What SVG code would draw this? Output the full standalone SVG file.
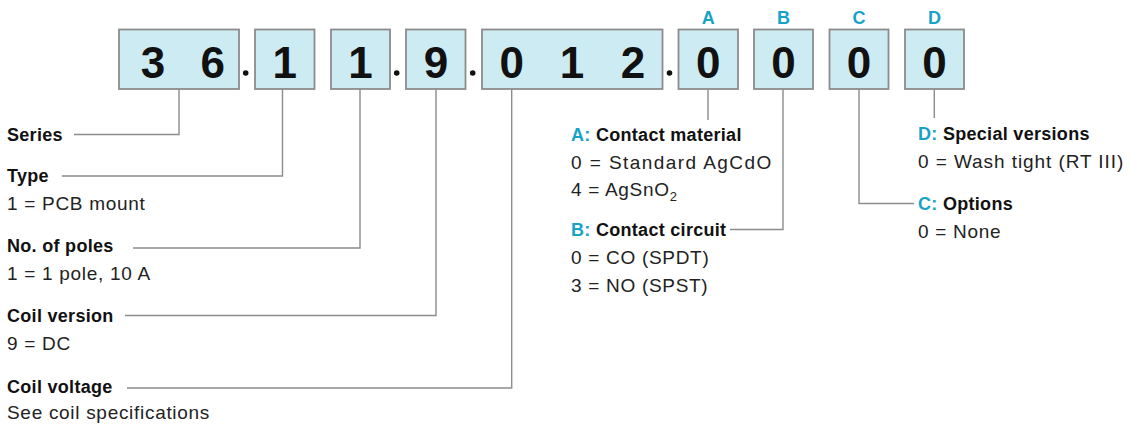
<svg xmlns="http://www.w3.org/2000/svg" width="1130" height="428" viewBox="0 0 1130 428">
<style>
.box{fill:#cdebf2;stroke:#8c8c8c;stroke-width:1.8}
.dig{font-family:"Liberation Sans",Arial,sans-serif;font-weight:bold;font-size:44px;fill:#111;text-anchor:middle}
.key{font-family:"Liberation Sans",Arial,sans-serif;font-weight:bold;font-size:18px;fill:#17a3c8;text-anchor:middle}
.lbl{font-family:"Liberation Sans",Arial,sans-serif;font-weight:bold;font-size:18px;fill:#111;letter-spacing:0.3px}
.val{font-family:"Liberation Sans",Arial,sans-serif;font-size:19px;fill:#222;letter-spacing:0.7px}
.t{fill:#17a3c8}
.ln{fill:none;stroke:#8c8c8c;stroke-width:1.4}
.dot{fill:#111}
</style>
<rect width="1130" height="428" fill="#fff"/>
<g id="connectors">
<polyline class="ln" points="179,89 179,134.5 74,134.5"/>
<polyline class="ln" points="282.5,89 282.5,176 62,176"/>
<polyline class="ln" points="360,89 360,248 133,248"/>
<polyline class="ln" points="436,89 436,315.5 125,315.5"/>
<polyline class="ln" points="511.7,89 511.7,388 127,388"/>
<polyline class="ln" points="708,89 708,120"/>
<polyline class="ln" points="783,89 783,229.5 730,229.5"/>
<polyline class="ln" points="859,89 859,203.5 914,203.5"/>
<polyline class="ln" points="934.3,89 934.3,118"/>
</g>
<g id="dots">
<circle class="dot" cx="245.7" cy="73" r="2.8"/>
<circle class="dot" cx="396.7" cy="73" r="2.8"/>
<circle class="dot" cx="472.7" cy="73" r="2.8"/>
<circle class="dot" cx="669.5" cy="73" r="2.8"/>
</g>
<g id="box-series"><rect class="box" x="119" y="29.5" width="120" height="59.5"/><text class="dig" x="153" y="77.5">3</text><text class="dig" x="212.7" y="77.5">6</text></g>
<g id="box-type"><rect class="box" x="255" y="29.5" width="59.5" height="59.5"/><text class="dig" x="284.7" y="77.5">1</text></g>
<g id="box-poles"><rect class="box" x="331" y="29.5" width="59" height="59.5"/><text class="dig" x="360.5" y="77.5">1</text></g>
<g id="box-coilversion"><rect class="box" x="406" y="29.5" width="59.5" height="59.5"/><text class="dig" x="436" y="77.5">9</text></g>
<g id="box-coilvoltage"><rect class="box" x="482" y="29.5" width="180.5" height="59.5"/><text class="dig" x="511.7" y="77.5">0</text><text class="dig" x="572" y="77.5">1</text><text class="dig" x="633" y="77.5">2</text></g>
<g id="box-A"><text class="key" x="708.3" y="23.5">A</text><rect class="box" x="678.5" y="29.5" width="59.5" height="59.5"/><text class="dig" x="708.3" y="77.5">0</text></g>
<g id="box-B"><text class="key" x="783.5" y="23.5">B</text><rect class="box" x="754" y="29.5" width="59" height="59.5"/><text class="dig" x="783.5" y="77.5">0</text></g>
<g id="box-C"><text class="key" x="859" y="23.5">C</text><rect class="box" x="829.5" y="29.5" width="59" height="59.5"/><text class="dig" x="859" y="77.5">0</text></g>
<g id="box-D"><text class="key" x="934.5" y="23.5">D</text><rect class="box" x="905" y="29.5" width="59" height="59.5"/><text class="dig" x="934.5" y="77.5">0</text></g>
<g id="label-series"><text class="lbl" x="7" y="140.5">Series</text></g>
<g id="label-type"><text class="lbl" x="7" y="182">Type</text><text class="val" x="7" y="210">1 = PCB mount</text></g>
<g id="label-poles"><text class="lbl" x="7" y="252">No. of poles</text><text class="val" x="7" y="279.5">1 = 1 pole, 10 A</text></g>
<g id="label-coilversion"><text class="lbl" x="7" y="321.5">Coil version</text><text class="val" x="7" y="350">9 = DC</text></g>
<g id="label-coilvoltage"><text class="lbl" x="7" y="392.5">Coil voltage</text><text class="val" x="7" y="418.5">See coil specifications</text></g>
<g id="label-A"><text class="lbl" x="571" y="141"><tspan class="t">A:</tspan> Contact material</text><text class="val" x="571" y="168.5" textLength="201">0 = Standard AgCdO</text><text class="val" x="571" y="196">4 = AgSnO<tspan font-size="13" dy="5">2</tspan></text></g>
<g id="label-B"><text class="lbl" x="571" y="235.5"><tspan class="t">B:</tspan> Contact circuit</text><text class="val" x="571" y="263.5">0 = CO (SPDT)</text><text class="val" x="571" y="291.5">3 = NO (SPST)</text></g>
<g id="label-C"><text class="lbl" x="918" y="210"><tspan class="t">C:</tspan> Options</text><text class="val" x="918" y="238">0 = None</text></g>
<g id="label-D"><text class="lbl" x="918" y="140"><tspan class="t">D:</tspan> Special versions</text><text class="val" x="918" y="168" textLength="206">0 = Wash tight (RT III)</text></g>
</svg>
